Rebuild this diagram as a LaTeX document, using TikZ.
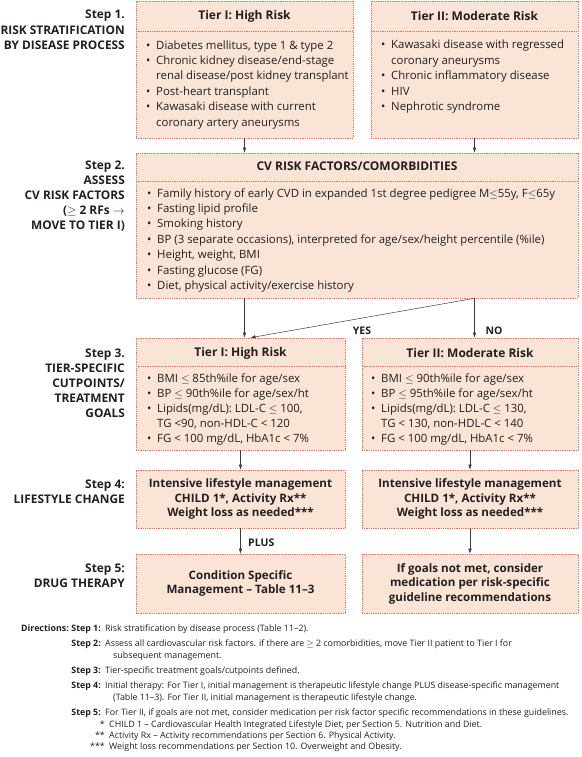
\documentclass[tikz,border=0pt]{standalone}
\usepackage{fontspec}
\setmainfont{Open Sans}
\usetikzlibrary{arrows.meta}
\definecolor{boxfill}{RGB}{250,228,214}
\definecolor{boxline}{RGB}{232,112,88}
\definecolor{ink}{RGB}{35,31,32}
\definecolor{flowgray}{RGB}{60,60,60}
\newcommand\bul{\makebox[10pt][l]{\textbullet}}
\newcommand\ind{\hspace*{10pt}}
\tikzset{
  tierbox/.style={draw=boxline, fill=boxfill, line width=0.6pt,
    dash pattern=on 0.9pt off 0.9pt, inner sep=0pt},
  divline/.style={draw=boxline, line width=0.6pt, dash pattern=on 0.9pt off 0.9pt},
  hdr/.style={inner sep=0pt, font=\fontsize{12}{14}\selectfont\bfseries, text=ink},
  blist/.style={anchor=base west, align=left, inner sep=0pt,
    font=\fontsize{11.4}{15.4}\selectfont, text=ink},
  steplab/.style={anchor=base east, align=right, inner sep=0pt,
    font=\fontsize{11.9}{15.2}\selectfont\bfseries, text=ink},
  ctext/.style={align=center, inner sep=0pt,
    font=\fontsize{11.6}{14.5}\selectfont\bfseries, text=ink},
  flow/.style={draw=flowgray, line width=0.5pt, ->},
  flowlab/.style={inner sep=0pt, font=\fontsize{10.5}{12}\selectfont\bfseries, text=ink},
  dirtext/.style={anchor=base west, inner sep=0pt, font=\fontsize{8.85}{11}\selectfont, text=ink},
  dirlab/.style={anchor=base east, inner sep=0pt, font=\fontsize{8.85}{11}\selectfont\bfseries, text=ink},
}

\begin{document}
\begin{tikzpicture}[x=1pt, y=-1pt, >={Latex[length=5pt,width=3.5pt]}]
\useasboundingbox (0,0) rectangle (581,757);

% step labels (base = last line)
\node[steplab] (lab1) at (125,49.4) {Step 1.\\RISK STRATIFICATION\\BY DISEASE PROCESS};
\node[steplab] (lab2) at (125,229.8) {Step 2.\\ASSESS\\CV RISK FACTORS\\($\geq$ 2 RFs $\rightarrow$\\MOVE TO TIER I)};
\node[steplab] (lab3) at (125,417.8) {Step 3.\\TIER-SPECIFIC\\CUTPOINTS/\\TREATMENT\\GOALS};
\node[steplab] (lab4) at (125,503.2) {Step 4:\\LIFESTYLE CHANGE};
\node[steplab] (lab5) at (125,587.2) {Step 5:\\DRUG THERAPY};

% step 1
\node[tierbox, minimum width=217pt, minimum height=137pt] (t1hi) at (244.5,69.5) {};
\node[tierbox, minimum width=207pt, minimum height=137pt] (t1mod) at (474.5,69.5) {};
\draw[divline] (t1hi.west |- 0,31) -- (t1hi.east |- 0,31);
\draw[divline] (t1mod.west |- 0,31) -- (t1mod.east |- 0,31);
\node[hdr] (h1hi) at (244.5,16) {Tier I: High Risk};
\node[hdr] (h1mod) at (474.5,16) {Tier II: Moderate Risk};
\node[blist] (l1hi) at (146,126) {\bul Diabetes mellitus, type 1 \& type 2\\
  \bul Chronic kidney disease/end-stage\\
  \ind renal disease/post kidney transplant\\
  \bul Post-heart transplant\\
  \bul Kawasaki disease with current\\
  \ind coronary artery aneurysms};
\node[blist] (l1mod) at (381,110.6) {\bul Kawasaki disease with regressed\\
  \ind coronary aneurysms\\
  \bul Chronic inflammatory disease\\
  \bul HIV\\
  \bul Nephrotic syndrome};

% step 2
\node[tierbox, minimum width=442pt, minimum height=145pt] (s2) at (357,225.5) {};
\draw[divline] (s2.west |- 0,181) -- (s2.east |- 0,181);
\node[hdr] (h2) at (357,166) {CV RISK FACTORS/COMORBIDITIES};
\node[blist] (l2) at (147,289.4) {\bul Family history of early CVD in expanded 1st degree pedigree M$\leq$55y, F$\leq$65y\\
  \bul Fasting lipid profile\\
  \bul Smoking history\\
  \bul BP (3 separate occasions), interpreted for age/sex/height percentile (\%ile)\\
  \bul Height, weight, BMI\\
  \bul Fasting glucose (FG)\\
  \bul Diet, physical activity/exercise history};

% step 3
\node[tierbox, minimum width=209pt, minimum height=112pt] (t3hi) at (240.5,394) {};
\node[tierbox, minimum width=216pt, minimum height=112pt] (t3mod) at (470,394) {};
\draw[divline] (t3hi.west |- 0,366) -- (t3hi.east |- 0,366);
\draw[divline] (t3mod.west |- 0,366) -- (t3mod.east |- 0,366);
\node[hdr] (h3hi) at (240.5,353) {Tier I: High Risk};
\node[hdr] (h3mod) at (470,353) {Tier II: Moderate Risk};
\node[blist, font=\fontsize{11.4}{15}\selectfont] (l3hi) at (147,442) {\bul BMI $\leq$ 85th\%ile for age/sex\\
  \bul BP $\leq$ 90th\%ile for age/sex/ht\\
  \bul Lipids(mg/dL): LDL-C $\leq$ 100,\\
  \ind TG <90, non-HDL-C < 120\\
  \bul FG < 100 mg/dL, HbA1c < 7\%};
\node[blist, font=\fontsize{11.4}{15}\selectfont] (l3mod) at (371,442) {\bul BMI $\leq$ 90th\%ile for age/sex\\
  \bul BP $\leq$ 95th\%ile for age/sex/ht\\
  \bul Lipids(mg/dL): LDL-C $\leq$ 130,\\
  \ind TG < 130, non-HDL-C < 140\\
  \bul FG < 100 mg/dL, HbA1c < 7\%};

% step 4 and 5
\node[tierbox, minimum width=209pt, minimum height=58pt] (t4hi) at (240.5,499) {};
\node[tierbox, minimum width=216pt, minimum height=58pt] (t4mod) at (470,499) {};
\node[ctext] (c4hi) at (t4hi) {Intensive lifestyle management\\CHILD 1*, Activity Rx**\\Weight loss as needed***};
\node[ctext] (c4mod) at (t4mod) {Intensive lifestyle management\\CHILD 1*, Activity Rx**\\Weight loss as needed***};
\node[tierbox, minimum width=209pt, minimum height=59pt] (t5hi) at (240.5,583.5) {};
\node[tierbox, minimum width=216pt, minimum height=59pt] (t5mod) at (470,583.5) {};
\node[ctext] (c5hi) at (t5hi) {Condition Specific\\Management – Table 11–3};
\node[ctext] (c5mod) at (t5mod) {If goals not met, consider\\medication per risk-specific\\guideline recommendations};

% connectors
\coordinate (yesend) at ([xshift=6pt]t3hi.north -| t1hi.south);
\draw[flow] (t1hi.south) -- (t1hi.south |- s2.north);
\draw[flow] (t1mod.south) -- (t1mod.south |- s2.north);
\draw[flow] (s2.south -| t1hi.south) -- (t3hi.north -| t1hi.south);
\draw[flow] (s2.south -| t1mod.south) -- (t3mod.north -| t1mod.south);
\draw[flow] (s2.south -| t1mod.south) -- (yesend);
\node[flowlab] (yes) at (362,331) {YES};
\node[flowlab] (no) at (494,331) {NO};
\draw[flow] (t3hi.south) -- (t4hi.north);
\draw[flow] (t3mod.south) -- (t4mod.north);
\draw[flow] (t4hi.south) -- (t5hi.north);
\draw[flow] (t4mod.south) -- (t5mod.north);
\node[flowlab, anchor=west] (plus) at (248,543) {PLUS};

% directions
\node[dirlab] (dirs) at (69,631) {Directions:};
\node[dirlab] (dstep1) at (101,631) {Step 1:};
\foreach \n/\y in {2/646,3/673,4/688,5/715}
  \node[dirlab] (dstep\n) at (101,\y) {Step \n:};
\node[dirtext] (dtext1) at (105,631) {Risk stratification by disease process (Table 11–2).};
\node[dirtext] (dtext2) at (105,646) {Assess all cardiovascular risk factors. if there are $\geq$ 2 comorbidities, move Tier II patient to Tier I for};
\node[dirtext] (dtext2b) at (113,658) {subsequent management.};
\node[dirtext] (dtext3) at (105,673) {Tier-specific treatment goals/cutpoints defined.};
\node[dirtext] (dtext4) at (105,688) {Initial therapy: For Tier I, initial management is therapeutic lifestyle change PLUS disease-specific management};
\node[dirtext] (dtext4b) at (113,700) {(Table 11–3). For Tier II, initial management is therapeutic lifestyle change.};
\node[dirtext] (dtext5) at (105,715) {For Tier II, if goals are not met, consider medication per risk factor specific recommendations in these guidelines.};
\node[dirtext, anchor=base east] (fn1s) at (105,727) {*};
\node[dirtext, anchor=base east] (fn2s) at (105,738) {**};
\node[dirtext, anchor=base east] (fn3s) at (105,749) {***};
\node[dirtext] (fn1) at (109,727) {CHILD 1 – Cardiovascular Health Integrated Lifestyle Diet, per Section 5. Nutrition and Diet.};
\node[dirtext] (fn2) at (109,738) {Activity Rx – Activity recommendations per Section 6. Physical Activity.};
\node[dirtext] (fn3) at (109,749) {Weight loss recommendations per Section 10. Overweight and Obesity.};
\end{tikzpicture}
\end{document}
